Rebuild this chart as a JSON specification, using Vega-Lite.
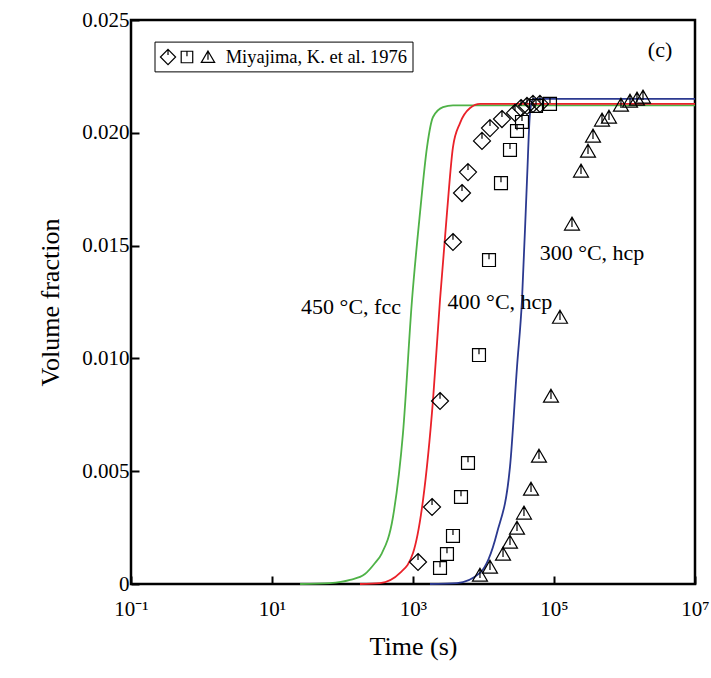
{
  "$schema": "https://vega.github.io/schema/vega-lite/v6.json",
  "width": 564,
  "height": 564,
  "autosize": {"type": "none"},
  "padding": {"left": 131, "top": 20, "right": 16, "bottom": 94},
  "background": "white",
  "config": {
    "view": {"stroke": "black", "strokeWidth": 2.5},
    "font": "Liberation Serif",
    "axis": {"domain": false, "grid": false, "labelFont": "Liberation Serif", "titleFont": "Liberation Serif", "labelColor": "black", "titleColor": "black", "tickColor": "black", "titleFontWeight": "normal"},
    "axisX": {"labelFont": "Liberation Serif"},
    "axisY": {"labelFont": "Liberation Serif"}
  },
  "datasets": {
    "curves": [
      {"s": "450", "t": 25, "v": 0},
      {"s": "450", "t": 66.5, "v": 0.00004},
      {"s": "450", "t": 128, "v": 0.00018},
      {"s": "450", "t": 208, "v": 0.00044},
      {"s": "450", "t": 289, "v": 0.00093},
      {"s": "450", "t": 360, "v": 0.00135},
      {"s": "450", "t": 520, "v": 0.00297},
      {"s": "450", "t": 721, "v": 0.00669},
      {"s": "450", "t": 968, "v": 0.01259},
      {"s": "450", "t": 1257, "v": 0.01645},
      {"s": "450", "t": 1581, "v": 0.01937},
      {"s": "450", "t": 1923, "v": 0.0207},
      {"s": "450", "t": 2665, "v": 0.02114},
      {"s": "450", "t": 3690, "v": 0.02122},
      {"s": "450", "t": 10000000, "v": 0.02122},
      {"s": "400", "t": 177, "v": 0},
      {"s": "400", "t": 340, "v": 0.00004},
      {"s": "400", "t": 655, "v": 0.00049},
      {"s": "400", "t": 1000, "v": 0.00137},
      {"s": "400", "t": 1387, "v": 0.00372},
      {"s": "400", "t": 1923, "v": 0.00816},
      {"s": "400", "t": 2415, "v": 0.01259},
      {"s": "400", "t": 3033, "v": 0.01645},
      {"s": "400", "t": 3690, "v": 0.01937},
      {"s": "400", "t": 4642, "v": 0.02043},
      {"s": "400", "t": 6442, "v": 0.0211},
      {"s": "400", "t": 8913, "v": 0.02128},
      {"s": "400", "t": 10000000, "v": 0.02128},
      {"s": "300", "t": 1742, "v": 0},
      {"s": "300", "t": 4207, "v": 0.00004},
      {"s": "300", "t": 8913, "v": 0.00049},
      {"s": "300", "t": 15520, "v": 0.00226},
      {"s": "300", "t": 23750, "v": 0.00519},
      {"s": "300", "t": 29870, "v": 0.00962},
      {"s": "300", "t": 35160, "v": 0.01259},
      {"s": "300", "t": 41400, "v": 0.01791},
      {"s": "300", "t": 45700, "v": 0.02088},
      {"s": "300", "t": 50360, "v": 0.0215},
      {"s": "300", "t": 10000000, "v": 0.0215}
    ],
    "points": [
      {"s": "450", "t": 1178, "v": 0.000975},
      {"s": "450", "t": 1862, "v": 0.003413},
      {"s": "450", "t": 2417, "v": 0.008112},
      {"s": "450", "t": 3690, "v": 0.01516},
      {"s": "450", "t": 4955, "v": 0.01733},
      {"s": "450", "t": 6026, "v": 0.01826},
      {"s": "450", "t": 9520, "v": 0.01964},
      {"s": "450", "t": 12360, "v": 0.02021},
      {"s": "450", "t": 18280, "v": 0.02061},
      {"s": "450", "t": 27970, "v": 0.02088},
      {"s": "450", "t": 34040, "v": 0.0211},
      {"s": "450", "t": 41400, "v": 0.02119},
      {"s": "450", "t": 50360, "v": 0.02128},
      {"s": "450", "t": 63240, "v": 0.02128},
      {"s": "400", "t": 2417, "v": 0.000709},
      {"s": "400", "t": 3033, "v": 0.00133},
      {"s": "400", "t": 3690, "v": 0.00213},
      {"s": "400", "t": 4795, "v": 0.003856},
      {"s": "400", "t": 6026, "v": 0.005363},
      {"s": "400", "t": 8630, "v": 0.01015},
      {"s": "400", "t": 11970, "v": 0.01436},
      {"s": "400", "t": 17700, "v": 0.01777},
      {"s": "400", "t": 23750, "v": 0.01924},
      {"s": "400", "t": 29870, "v": 0.02008},
      {"s": "400", "t": 35160, "v": 0.02048},
      {"s": "400", "t": 55570, "v": 0.02119},
      {"s": "400", "t": 87700, "v": 0.02128},
      {"s": "300", "t": 8913, "v": 0.000399},
      {"s": "300", "t": 12360, "v": 0.000754},
      {"s": "300", "t": 18920, "v": 0.00133},
      {"s": "300", "t": 23750, "v": 0.00186},
      {"s": "300", "t": 29870, "v": 0.00248},
      {"s": "300", "t": 37500, "v": 0.00315},
      {"s": "300", "t": 47200, "v": 0.00421},
      {"s": "300", "t": 61240, "v": 0.00567},
      {"s": "300", "t": 90600, "v": 0.00833},
      {"s": "300", "t": 121600, "v": 0.01183},
      {"s": "300", "t": 179900, "v": 0.01596},
      {"s": "300", "t": 241500, "v": 0.01831},
      {"s": "300", "t": 303600, "v": 0.01919},
      {"s": "300", "t": 357300, "v": 0.01986},
      {"s": "300", "t": 479700, "v": 0.02057},
      {"s": "300", "t": 602600, "v": 0.0207},
      {"s": "300", "t": 891000, "v": 0.02123},
      {"s": "300", "t": 1197000, "v": 0.02141},
      {"s": "300", "t": 1503000, "v": 0.0215},
      {"s": "300", "t": 1829000, "v": 0.02159}
    ],
    "legendbox": [{"t": 0.219, "t2": 1000, "v": 0.02402, "v2": 0.0227}],
    "legendsym": [
      {"s": "450", "t": 0.335, "v": 0.02336},
      {"s": "400", "t": 0.622, "v": 0.02336},
      {"s": "300", "t": 1.236, "v": 0.02336}
    ],
    "legendtext": [
      {"t": 2.2, "v": 0.02336, "label": "Miyajima, K. et al. 1976"}
    ],
    "labels": [
      {"t": 132, "v": 0.01228, "label": "450 °C, fcc"},
      {"t": 17140, "v": 0.0125, "label": "400 °C, hcp"},
      {"t": 346000, "v": 0.01467, "label": "300 °C, hcp"},
      {"t": 3190000, "v": 0.02367, "label": "(c)"}
    ]
  },
  "layer": [
    {
      "data": {"name": "curves"},
      "mark": {"type": "line", "strokeWidth": 1.8, "interpolate": "monotone"},
      "encoding": {
        "x": {
          "field": "t", "type": "quantitative",
          "scale": {"type": "log", "domain": [0.1, 10000000], "nice": false},
          "axis": {
            "title": "Time (s)", "titleFontSize": 26, "titlePadding": 14, "titleFont": "Liberation Serif",
            "values": [0.1, 10, 1000, 100000, 10000000],
            "labelExpr": "datum.value < 1 ? '10⁻¹' : datum.value < 100 ? '10¹' : datum.value < 10000 ? '10³' : datum.value < 1000000 ? '10⁵' : '10⁷'",
            "labelFont": "Liberation Serif",
            "labelFontSize": 21, "tickSize": -8, "tickWidth": 2, "labelPadding": 22, "labelFlush": false, "labelOverlap": false
          }
        },
        "y": {
          "field": "v", "type": "quantitative",
          "scale": {"domain": [0, 0.025], "nice": false},
          "axis": {
            "title": "Volume fraction", "titleFontSize": 26, "titlePadding": 18, "titleFont": "Liberation Serif",
            "values": [0, 0.005, 0.01, 0.015, 0.02, 0.025],
            "labelExpr": "datum.value == 0 ? '0' : format(datum.value, '.3f')",
            "labelFont": "Liberation Serif",
            "labelFontSize": 21, "tickSize": -8, "tickWidth": 2, "labelPadding": 10, "labelFlush": false, "labelOverlap": false
          }
        },
        "color": {
          "field": "s", "type": "nominal",
          "scale": {"domain": ["450", "400", "300"], "range": ["#4fb247", "#ea2129", "#2b3990"]},
          "legend": null
        }
      }
    },
    {
      "data": {"name": "points"},
      "mark": {"type": "point", "filled": false, "stroke": "black", "strokeWidth": 1.2, "size": 289, "opacity": 1},
      "encoding": {
        "x": {"field": "t", "type": "quantitative"},
        "y": {"field": "v", "type": "quantitative"},
        "shape": {
          "field": "s", "type": "nominal",
          "scale": {"domain": ["450", "400", "300"], "range": ["M0,-1L1,0L0,1L-1,0Z M0,-1L0,-0.25", "M-0.76,-0.76L0.76,-0.76L0.76,0.76L-0.76,0.76Z M0,-0.76L0,-0.1", "M0,-0.8L0.88,0.72L-0.88,0.72Z M0,-0.8L0,0.35"]},
          "legend": null
        }
      }
    },
    {
      "data": {"name": "legendbox"},
      "mark": {"type": "rect", "fill": "white", "stroke": "black", "strokeWidth": 1},
      "encoding": {
        "x": {"field": "t", "type": "quantitative"},
        "x2": {"field": "t2"},
        "y": {"field": "v", "type": "quantitative"},
        "y2": {"field": "v2"}
      }
    },
    {
      "data": {"name": "legendsym"},
      "mark": {"type": "point", "filled": false, "stroke": "black", "strokeWidth": 1.2, "size": 230, "opacity": 1},
      "encoding": {
        "x": {"field": "t", "type": "quantitative"},
        "y": {"field": "v", "type": "quantitative"},
        "shape": {"field": "s", "type": "nominal", "legend": null}
      }
    },
    {
      "data": {"name": "legendtext"},
      "mark": {"type": "text", "font": "Liberation Serif", "color": "black", "baseline": "middle", "align": "left", "fontSize": 18.5},
      "encoding": {
        "x": {"field": "t", "type": "quantitative"},
        "y": {"field": "v", "type": "quantitative"},
        "text": {"field": "label"}
      }
    },
    {
      "data": {"name": "labels"},
      "mark": {"type": "text", "font": "Liberation Serif", "color": "black", "baseline": "middle", "align": "center", "fontSize": 22},
      "encoding": {
        "x": {"field": "t", "type": "quantitative"},
        "y": {"field": "v", "type": "quantitative"},
        "text": {"field": "label"}
      }
    }
  ]
}
